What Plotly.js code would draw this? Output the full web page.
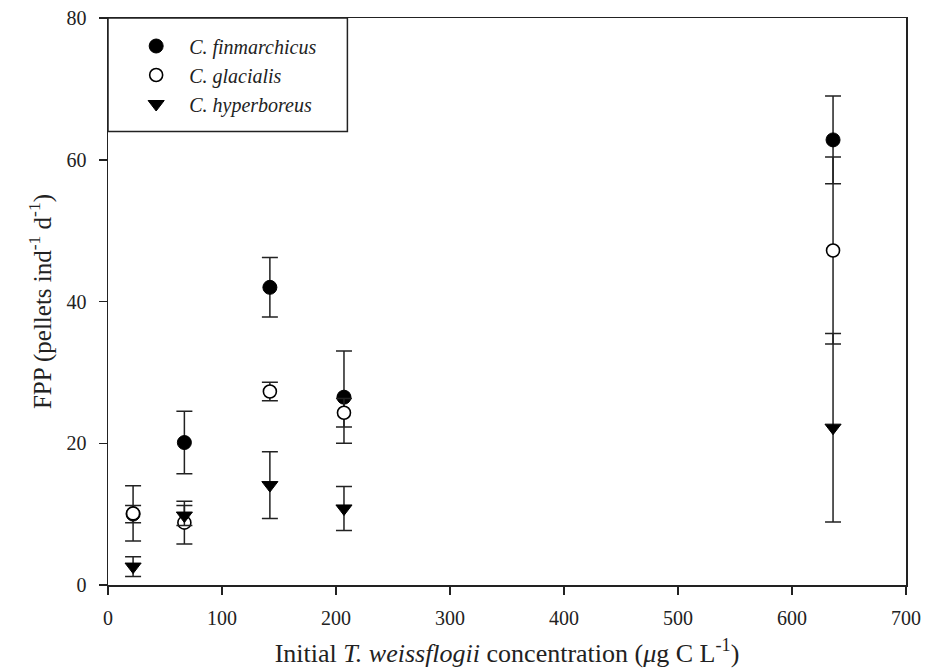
<!DOCTYPE html>
<html>
<head>
<meta charset="utf-8">
<script src="https://cdn.plot.ly/plotly-3.0.1.min.js"></script>
<style>html,body{margin:0;padding:0;background:#fff;}#chart{width:926px;height:672px;}</style>
</head>
<body>
<div id="chart"></div>
<script>
// Initial T. weissflogii concentration (µg C L-1)
const concX = [22, 67, 142, 207, 636];

const finLabel = "<i>C. finmarchicus</i>";
const finY   = [10.0, 20.1, 42.0, 26.5, 62.8];
const finErr = [1.2, 4.4, 4.2, 6.5, 6.2];

const glaLabel = "<i>C. glacialis</i>";
const glaY   = [10.1, 8.8, 27.3, 24.3, 47.2];
const glaErr = [3.9, 3.0, 1.3, 2.0, 13.2];

const hypLabel = "<i>C. hyperboreus</i>";
const hypY   = [2.6, 9.8, 14.1, 10.8, 22.2];
const hypErr = [1.4, 1.4, 4.7, 3.1, 13.3];

const xTicks = [0, 100, 200, 300, 400, 500, 600, 700];
const yTicks = [0, 20, 40, 60, 80];

const errStyle = (arr) => ({type: "data", array: arr, visible: true, color: "#222", thickness: 1.5, width: 8});

const traces = [
  {x: concX, y: finY, name: finLabel, mode: "markers", type: "scatter",
   error_y: errStyle(finErr),
   marker: {symbol: "circle", size: 14, color: "#000", line: {color: "#000", width: 1}}},
  {x: concX, y: glaY, name: glaLabel, mode: "markers", type: "scatter",
   error_y: errStyle(glaErr),
   marker: {symbol: "circle", size: 13, color: "#fff", line: {color: "#000", width: 1.6}}},
  {x: concX, y: hypY, name: hypLabel, mode: "markers", type: "scatter",
   error_y: errStyle(hypErr),
   marker: {symbol: "triangle-down", size: 14, color: "#000", line: {color: "#000", width: 1}}}
];

const fam = "Liberation Serif, Times New Roman, serif";

const layout = {
  width: 926, height: 672,
  margin: {l: 108, r: 20, t: 18, b: 87},
  paper_bgcolor: "#fff", plot_bgcolor: "#fff",
  showlegend: true,
  legend: {
    x: 0.019, y: 0.985, xanchor: "left", yanchor: "top",
    bgcolor: "rgba(0,0,0,0)", borderwidth: 0,
    font: {family: fam, size: 20, color: "#222"},
    itemwidth: 56
  },
  xaxis: {
    range: [0, 700], tickvals: xTicks, ticktext: xTicks.map(String),
    showgrid: false, zeroline: false,
    showline: true, linecolor: "#222", linewidth: 1.5, mirror: true,
    ticks: "outside", ticklen: 8, tickwidth: 1.5, tickcolor: "#222",
    ticklabelstandoff: 6,
    tickfont: {family: fam, size: 20, color: "#222"},
    title: {text: "Initial <i>T. weissflogii</i> concentration (<i>μ</i>g C L<sup>-1</sup>)",
            font: {family: fam, size: 26, color: "#222"}, standoff: 16}
  },
  yaxis: {
    range: [0, 80], tickvals: yTicks, ticktext: yTicks.map(String),
    showgrid: false, zeroline: false,
    showline: true, linecolor: "#222", linewidth: 1.5, mirror: true,
    ticks: "outside", ticklen: 8, tickwidth: 1.5, tickcolor: "#222",
    ticklabelstandoff: 8,
    tickfont: {family: fam, size: 20, color: "#222"},
    title: {text: "FPP (pellets ind<sup>-1</sup> d<sup>-1</sup>)",
            font: {family: fam, size: 25, color: "#222"}, standoff: 8}
  },
  shapes: [
    {type: "rect", xref: "paper", yref: "paper", x0: 0, x1: 0.3, y0: 0.8, y1: 1,
     line: {color: "#222", width: 1.5}, fillcolor: "rgba(0,0,0,0)"}
  ]
};

Plotly.newPlot("chart", traces, layout, {displayModeBar: false, staticPlot: true});
</script>
</body>
</html>
